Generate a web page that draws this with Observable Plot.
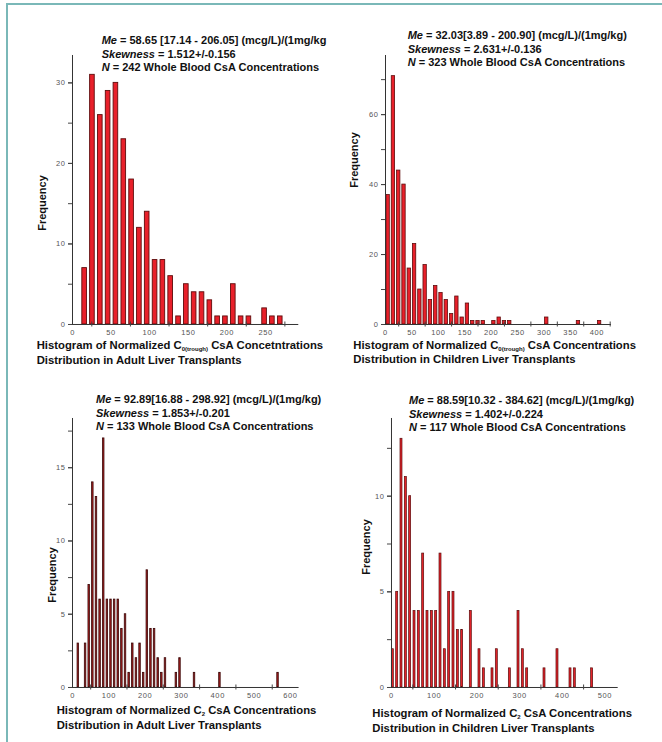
<!DOCTYPE html>
<html><head><meta charset="utf-8">
<script src="https://cdn.jsdelivr.net/npm/d3@7"></script>
<script src="https://cdn.jsdelivr.net/npm/@observablehq/plot@0.6"></script>
<style>
html,body{margin:0;padding:0;background:#fff;}
#page{position:relative;width:662px;height:742px;overflow:hidden;font-family:Arial,"Liberation Sans",sans-serif;background:#fff;}
.frame{position:absolute;left:6px;top:3px;width:660px;height:760px;border-left:2px solid #7ab8b8;border-top:2px solid #7ab8b8;}
.ann,.cap{position:absolute;font-weight:bold;color:#111;white-space:nowrap;}
.ann{font-size:11px;line-height:13.6px;}
.cap{font-size:11.3px;line-height:14.6px;}
.freq{position:absolute;font-weight:bold;font-size:11px;color:#111;white-space:nowrap;transform:translate(-50%,-50%) rotate(-90deg);}
sub{font-size:6px;vertical-align:-2px;line-height:0;}
svg text{letter-spacing:0.6px;}
</style>
</head><body><div id="page"><div class="frame"></div></div>
<script>
// ---- Panel 1: C0 adult ----
const p1Centers = [15.7,25.8,36.0,46.1,56.2,66.4,76.5,86.6,96.7,106.9,117.0,127.1,137.3,147.4,157.5,167.7,177.8,187.9,198.0,208.2,218.3,228.4,248.7,258.8,269.0];
const p1Counts  = [7,31,26,29,30,23,18,12,14,8,8,6,1,5,4,4,3,1,1,5,1,1,2,1,1];
const p1BinWidth = 10.13;
const p1XLabels = [0,50,100,150,200,250];
const p1XTicks = [25,75,125,175,225,275];
const p1YLabels = [0,10,20,30];
const p1YTicks = [0,5,10,15,20,25,30];
const p1Text = ["<i>Me</i> = 58.65 [17.14 - 206.05] (mcg/L)/(1mg/kg", "<i>Skewness</i> = 1.512+/-0.156", "<i>N</i> = 242 Whole Blood CsA Concentrations"];
const p1Caption = ["Histogram of Normalized C<sub>0(trough)</sub> CsA Concetntrations", "Distribution in Adult Liver Transplants"];

// ---- Panel 2: C0 children ----
const p2Centers = [5,15,25,35,45,55,65,75,85,95,105,115,125,135,145,155,165,175,185,205,215,225,235,305,365,405];
const p2Counts  = [37,71,44,40,16,23,10,17,7,11,9,7,3,8,2,6,1,1,1,1,2,1,1,2,1,1];
const p2BinWidth = 10;
const p2XLabels = [0,50,100,150,200,250,300,350,400];
const p2XTicks = [25,75,125,175,225,275,325,375,425];
const p2YLabels = [0,20,40,60];
const p2YTicks = [0,10,20,30,40,50,60,70];
const p2Text = ["<i>Me</i> = 32.03[3.89 - 200.90] (mcg/L)/(1mg/kg)", "<i>Skewness</i> = 2.631+/-0.136", "<i>N</i> = 323 Whole Blood CsA Concentrations"];
const p2Caption = ["Histogram of Normalized C<sub>0(trough)</sub> CsA Concentrations", "Distribution in Children Liver Transplants"];

// ---- Panel 3: C2 adult ----
const p3Centers = [16,36,46,56,66,76,86,96,106,116,126,136,146,156,166,176,186,196,206,216,226,236,246,256,286,296,336,406,566];
const p3Counts  = [3,3,7,14,13,6,17,6,6,6,6,4,5,1,3,2,3,1,8,4,4,2,1,2,1,2,1,1,1];
const p3BinWidth = 10;
const p3XLabels = [0,100,200,300,400,500,600];
const p3XTicks = [50,150,250,350,450,550];
const p3YLabels = [0,5,10,15];
const p3YTicks = [0,2.5,5,7.5,10,12.5,15,17.5];
const p3Text = ["<i>Me</i> = 92.89[16.88 - 298.92] (mcg/L)/(1mg/kg)", "<i>Skewness</i> = 1.853+/-0.201", "<i>N</i> = 133 Whole Blood CsA Concentrations"];
const p3Caption = ["Histogram of Normalized C<sub>2</sub> CsA Concentrations", "Distribution in Adult Liver Transplants"];

// ---- Panel 4: C2 children ----
const p4Centers = [3.1,13.3,23.4,33.6,43.7,53.9,64.0,74.2,84.3,94.5,104.6,114.8,124.9,135.1,145.2,155.4,165.5,185.8,206.1,216.3,236.6,246.7,277.2,297.5,307.6,317.8,358.4,388.8,419.3,429.4,470.0];
const p4Counts  = [2,5,13,11,10,4,4,7,4,4,4,7,2,5,5,3,3,4,2,1,1,2,1,4,2,1,1,2,1,1,1];
const p4BinWidth = 10.15;
const p4XLabels = [0,100,200,300,400,500];
const p4XTicks = [50,150,250,350,450];
const p4YLabels = [0,5,10];
const p4YTicks = [0,2.5,5,7.5,10,12.5];
const p4Text = ["<i>Me</i> = 88.59[10.32 - 384.62] (mcg/L)/(1mg/kg)", "<i>Skewness</i> = 1.402+/-0.224", "<i>N</i> = 117 Whole Blood CsA Concentrations"];
const p4Caption = ["Histogram of Normalized C<sub>2</sub> CsA Concentrations", "Distribution in Children Liver Transplants"];

const yLabelText = "Frequency";

// ---- layout ----
const panels = [
  {centers:p1Centers, counts:p1Counts, binWidth:p1BinWidth, xLabels:p1XLabels, xTicks:p1XTicks, yLabels:p1YLabels, yTicks:p1YTicks, text:p1Text, caption:p1Caption,
   xMax:293, yMax:33.4, x0:71.7, x1:298, yTop:55, yBot:324, fill:"#e8202a", stroke:"#5e0c0c", sw:0.9, inset:1.6,
   ann:[101.7,34], cap:[36.7,338.4], freq:[41.7,202.7]},
  {centers:p2Centers, counts:p2Counts, binWidth:p2BinWidth, xLabels:p2XLabels, xTicks:p2XTicks, yLabels:p2YLabels, yTicks:p2YTicks, text:p2Text, caption:p2Caption,
   xMax:427.5, yMax:76.9, x0:385, x1:611, yTop:55, yBot:324, fill:"#e8202a", stroke:"#5e0c0c", sw:0.8, inset:0.97,
   ann:[407.7,29.2], cap:[353.3,337.7], freq:[354,160]},
  {centers:p3Centers, counts:p3Counts, binWidth:p3BinWidth, xLabels:p3XLabels, xTicks:p3XTicks, yLabels:p3YLabels, yTicks:p3YTicks, text:p3Text, caption:p3Caption,
   xMax:624, yMax:18.36, x0:71.7, x1:298.3, yTop:418.3, yBot:687.3, fill:"#a81e1e", stroke:"#3a0808", sw:0.8, inset:1.07,
   ann:[96,393.2], cap:[56.7,703.4], freq:[52.3,575]},
  {centers:p4Centers, counts:p4Counts, binWidth:p4BinWidth, xLabels:p4XLabels, xTicks:p4XTicks, yLabels:p4YLabels, yTicks:p4YTicks, text:p4Text, caption:p4Caption,
   xMax:531, yMax:14.06, x0:391, x1:617.7, yTop:418.3, yBot:687.3, fill:"#e4232a", stroke:"#5a0c0c", sw:0.7, inset:1.17,
   ann:[409,394], cap:[372.3,706], freq:[365.7,546.7]}
];

const page = document.getElementById("page");
const font = 'Arial, "Liberation Sans", sans-serif';

for (const p of panels) {
  const mL=40, mR=20, mT=10, mB=30;
  const data = p.centers.map((c,i)=>({c, n:p.counts[i]}));
  const chart = Plot.plot({
    width:(p.x1-p.x0)+mL+mR, height:(p.yBot-p.yTop)+mT+mB,
    marginLeft:mL, marginRight:mR, marginTop:mT, marginBottom:mB,
    style:{fontFamily:font, background:"transparent", overflow:"visible"},
    x:{domain:[0,p.xMax], axis:null},
    y:{domain:[0,p.yMax], axis:null},
    marks:[
      Plot.rectY(data,{x1:d=>d.c-p.binWidth/2, x2:d=>d.c+p.binWidth/2, y1:0, y2:"n", fill:p.fill, stroke:p.stroke, strokeWidth:p.sw, insetLeft:p.inset, insetRight:p.inset}),
      Plot.ruleY([0],{stroke:"#333", strokeWidth:1}),
      Plot.ruleX([0],{stroke:"#333", strokeWidth:1}),
      Plot.axisY(p.yTicks,{tickSize:4, tickFormat:()=>"", stroke:"#444", label:null}),
      Plot.axisY(p.yLabels,{tickSize:4, tickPadding:3, fontSize:7.5, fill:"#555", stroke:"#444", label:null}),
      Plot.axisX(p.xTicks,{tickSize:5, dy:-2.5, tickFormat:()=>"", stroke:"#444", label:null}),
      Plot.axisX(p.xLabels,{tickSize:0, tickPadding:5, fontSize:7.5, fill:"#555", label:null})
    ]
  });
  chart.style.position="absolute";
  chart.style.left=(p.x0-mL)+"px";
  chart.style.top=(p.yTop-mT)+"px";
  page.appendChild(chart);

  const ann = document.createElement("div");
  ann.className="ann";
  ann.style.left=p.ann[0]+"px"; ann.style.top=p.ann[1]+"px";
  ann.innerHTML = p.text.map(t=>"<div>"+t+"</div>").join("");
  page.appendChild(ann);

  const cap = document.createElement("div");
  cap.className="cap";
  cap.style.left=p.cap[0]+"px"; cap.style.top=p.cap[1]+"px";
  cap.innerHTML = p.caption.map(t=>"<div>"+t+"</div>").join("");
  page.appendChild(cap);

  const fq = document.createElement("div");
  fq.className="freq";
  fq.style.left=p.freq[0]+"px"; fq.style.top=p.freq[1]+"px";
  fq.textContent = yLabelText;
  page.appendChild(fq);
}
</script></body></html>
